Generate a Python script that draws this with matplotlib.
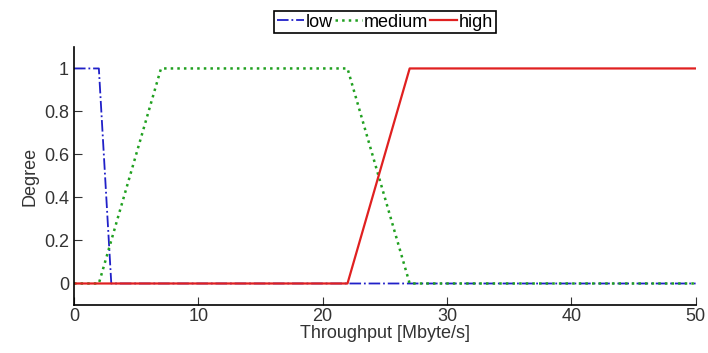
import numpy as np
import matplotlib.pyplot as plt

plt.rcParams['font.family'] = ['Liberation Sans', 'DejaVu Sans']

# membership function breakpoints (Throughput in Mbyte/s)
low_x = [0, 2, 3, 50]
low_y = [1, 1, 0, 0]
med_x = [0, 2, 7, 22, 27, 50]
med_y = [0, 0, 1, 1, 0, 0]
high_x = [0, 22, 27, 50]
high_y = [0, 0, 1, 1]

fig = plt.figure(figsize=(7.08, 3.53), dpi=100)
ax = fig.add_axes([0.1045, 0.136, 0.878, 0.731])

ax.plot(low_x, low_y, color='#2020c8', ls='-.', lw=1.3, label='low')
ax.plot(med_x, med_y, color='#20a020', ls=':', lw=1.8, label='medium')
ax.plot(high_x, high_y, color='#e02020', ls='-', lw=1.6, label='high')

ax.set_xlim(0, 50)
ax.set_ylim(-0.1, 1.1)
ax.set_xticks([0, 10, 20, 30, 40, 50])
ax.set_yticks([0, 0.2, 0.4, 0.6, 0.8, 1])
ax.set_yticklabels(['0', '0.2', '0.4', '0.6', '0.8', '1'])
ax.tick_params(direction='in', length=6, labelsize=13, colors='#333333')
ax.tick_params(axis='x', pad=2)
for s in ['top', 'right']:
    ax.spines[s].set_visible(False)
for s in ['left', 'bottom']:
    ax.spines[s].set_linewidth(1.2)
ax.set_xlabel('Throughput [Mbyte/s]', fontsize=13, labelpad=0, color='#333333')
ax.set_ylabel('Degree', fontsize=13, labelpad=4, color='#333333')

leg = fig.legend(loc='upper center', bbox_to_anchor=(0.544, 0.995), ncol=3,
                 fontsize=13, handlelength=1.5, handletextpad=0.1,
                 columnspacing=0.1, borderpad=0.15, fancybox=False,
                 edgecolor='black', framealpha=1)
leg.get_frame().set_linewidth(1.2)

fig.savefig('out.png', dpi=100)
